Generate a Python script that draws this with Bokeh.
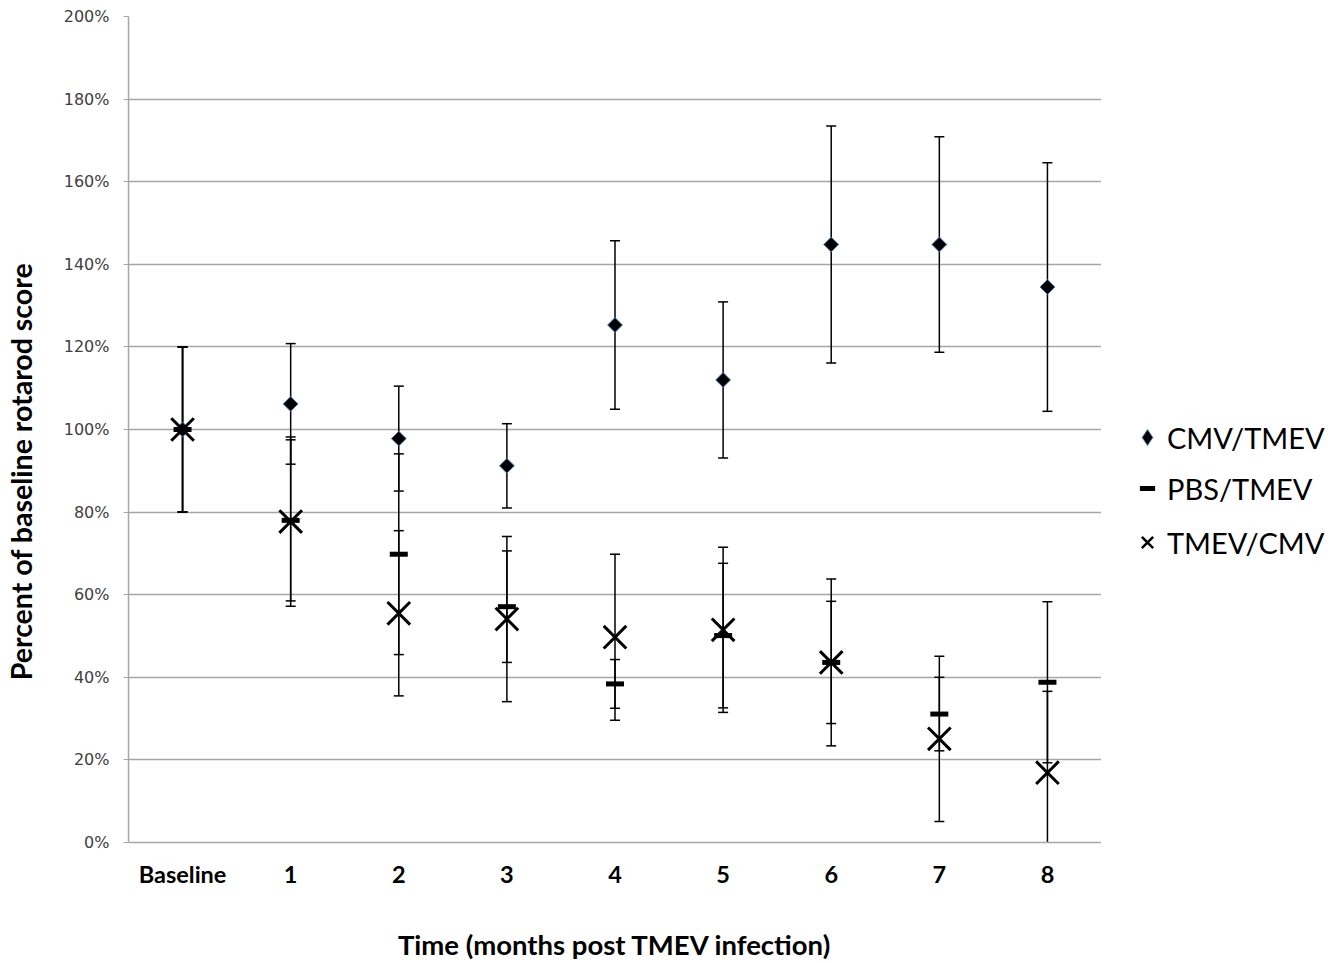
import math
from bokeh.plotting import figure
from bokeh.layouts import row
from bokeh.models import (FactorRange, Range1d, FixedTicker, PrintfTickFormatter,
                          ColumnDataSource, Legend, LegendItem, Label)
from bokeh.embed import file_html
from bokeh.resources import INLINE

categories = ["Baseline", "1", "2", "3", "4", "5", "6", "7", "8"]
cmv_tmev = [100, 106.2, 97.8, 91.2, 125.3, 112.0, 144.8, 144.8, 134.5]
cmv_tmev_err = [20, 14.6, 12.7, 10.2, 20.4, 18.9, 28.7, 26.1, 30.1]
pbs_tmev = [100, 78.0, 69.8, 57.1, 38.4, 50.1, 43.6, 31.1, 38.8]
pbs_tmev_err = [20, 19.5, 24.3, 13.5, 5.9, 17.5, 14.8, 8.9, 19.5]
tmev_cmv = [100, 77.7, 55.5, 54.1, 49.7, 51.5, 43.6, 25.1, 16.9]
tmev_cmv_err = [20, 20.5, 20.0, 20.0, 20.1, 20.0, 20.2, 20.0, 19.7]
series_names = ["CMV/TMEV", "PBS/TMEV", "TMEV/CMV"]
y_ticks = [0, 20, 40, 60, 80, 100, 120, 140, 160, 180, 200]
y_title = "Percent  of  baseline rotarod score"
x_title = "Time (months post TMEV infection)"

TOP, BOTTOM = 16, 120

# ---------- left strip holding the y title ----------
tf = figure(width=45, height=963, x_range=Range1d(0, 45), y_range=Range1d(0, 200),
            output_backend="svg", toolbar_location=None,
            x_axis_location=None, y_axis_location=None,
            min_border_left=0, min_border_right=0, min_border_top=TOP, min_border_bottom=BOTTOM)
tf.outline_line_color = None
tf.xgrid.visible = False
tf.ygrid.visible = False
tf.add_layout(Label(x=20, y=91.5, text=y_title, angle=math.pi / 2,
                    text_align="center", text_baseline="middle",
                    text_font="Lato", text_font_style="bold", text_font_size="28.5px",
                    text_color="black"))

# ---------- main chart ----------
p = figure(width=1056, height=963, x_range=FactorRange(*categories, range_padding=0),
           y_range=Range1d(0, 200), output_backend="svg", toolbar_location=None,
           min_border_left=83, min_border_right=0, min_border_top=TOP, min_border_bottom=BOTTOM)
p.outline_line_color = None
p.background_fill_color = "white"
p.border_fill_color = "white"

p.xgrid.grid_line_color = None
p.ygrid.grid_line_color = "#a6a6a6"
p.ygrid.grid_line_width = 1.5
p.yaxis.ticker = FixedTicker(ticks=y_ticks)
p.yaxis.formatter = PrintfTickFormatter(format="%d%%")
p.yaxis.axis_line_color = "#a6a6a6"
p.yaxis.axis_line_width = 1.5
p.yaxis.major_tick_line_color = "#a6a6a6"
p.yaxis.major_tick_out = 5
p.yaxis.major_tick_in = 0
p.yaxis.minor_tick_line_color = None
p.yaxis.major_label_text_font = "DejaVu Sans"
p.yaxis.major_label_text_font_size = "16px"
p.yaxis.major_label_text_color = "#404040"
p.yaxis.major_label_standoff = 14

p.xaxis.axis_line_color = "#a6a6a6"
p.xaxis.axis_line_width = 1.5
p.xaxis.major_tick_line_color = None
p.xaxis.minor_tick_line_color = None
p.xaxis.major_label_text_font = "Lato"
p.xaxis.major_label_text_font_style = "bold"
p.xaxis.major_label_text_font_size = "23.5px"
p.xaxis.major_label_text_color = "black"
p.xaxis.major_label_standoff = 11
p.xaxis.axis_label = x_title
p.xaxis.axis_label_text_font = "Lato"
p.xaxis.axis_label_text_font_style = "bold"
p.xaxis.axis_label_text_font_size = "27.5px"
p.xaxis.axis_label_text_color = "black"
p.xaxis.axis_label_standoff = 37

src = ColumnDataSource(dict(
    x=categories,
    cmv=cmv_tmev, cmv_lo=[v - e for v, e in zip(cmv_tmev, cmv_tmev_err)],
    cmv_hi=[v + e for v, e in zip(cmv_tmev, cmv_tmev_err)],
    pbs=pbs_tmev, pbs_lo=[v - e for v, e in zip(pbs_tmev, pbs_tmev_err)],
    pbs_hi=[v + e for v, e in zip(pbs_tmev, pbs_tmev_err)],
    tc=tmev_cmv, tc_lo=[v - e for v, e in zip(tmev_cmv, tmev_cmv_err)],
    tc_hi=[v + e for v, e in zip(tmev_cmv, tmev_cmv_err)],
))

for key in ["cmv", "pbs", "tc"]:
    p.segment(x0="x", y0=key + "_lo", x1="x", y1=key + "_hi", source=src,
              line_color="black", line_width=1.5)
    p.scatter(x="x", y=key + "_lo", source=src, marker="dash", size=10,
              line_color="black", line_width=1.5)
    p.scatter(x="x", y=key + "_hi", source=src, marker="dash", size=10,
              line_color="black", line_width=1.5)

p.scatter(x="x", y="cmv", source=src, marker="square", size=10.5, angle=math.pi / 4,
          fill_color="black", line_color="#4a7ebb", line_width=1)
p.scatter(x="x", y="pbs", source=src, marker="dash", size=18,
          line_color="black", line_width=5, line_cap="butt")
p.scatter(x="x", y="tc", source=src, marker="x", size=32,
          line_color="black", line_width=3)

# ---------- legend strip on the right ----------
lf = figure(width=236, height=963, x_range=Range1d(0, 1), y_range=Range1d(0, 1),
            output_backend="svg", toolbar_location=None,
            x_axis_location=None, y_axis_location=None,
            min_border_left=0, min_border_right=0, min_border_top=TOP, min_border_bottom=BOTTOM)
lf.outline_line_color = None
lf.xgrid.visible = False
lf.ygrid.visible = False
lf.border_fill_color = "white"

key_src = ColumnDataSource(dict(x=[float("nan")], y=[float("nan")]))
l_cmv = lf.scatter(x="x", y="y", source=key_src, marker="diamond", size=16,
                   fill_color="black", line_color="#4a7ebb", line_width=1)
l_pbs = lf.scatter(x="x", y="y", source=key_src, marker="dash", size=15,
                   line_color="black", line_width=5, line_cap="butt")
l_tc = lf.scatter(x="x", y="y", source=key_src, marker="x", size=16,
                  line_color="black", line_width=2.5)

leg_specs = [  # renderer, glyph box, location, standoff
    (l_cmv, 40, (26, 385), 0),
    (l_pbs, 38, (27, 335), 1),
    (l_tc, 40, (26, 280), 0),
]
for (rend, g, loc, so), name in zip(leg_specs, series_names):
    lg = Legend(items=[LegendItem(label=name, renderers=[rend], index=0)], location=loc,
                label_text_font="Lato", label_text_font_size="29px",
                label_text_color="black", glyph_width=g, glyph_height=g,
                label_height=30, padding=0, margin=0, label_standoff=so,
                border_line_color=None, background_fill_alpha=0)
    lf.add_layout(lg, "center")

open("out.html", "w").write(file_html(row(tf, p, lf), INLINE))
